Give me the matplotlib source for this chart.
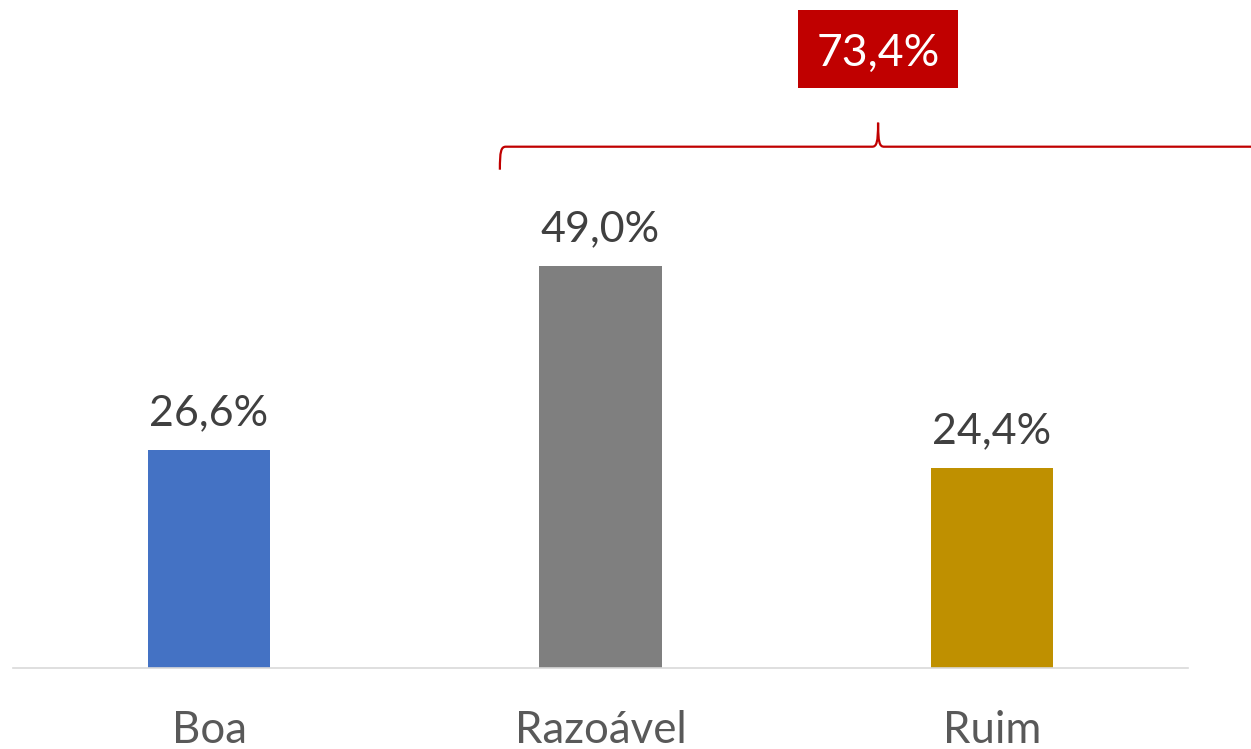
import matplotlib

matplotlib.use("Agg")
import matplotlib.pyplot as plt
import matplotlib.transforms as mtransforms
from matplotlib.patches import PathPatch, Rectangle
from matplotlib.path import Path

plt.rcParams["font.family"] = ["Lato", "DejaVu Sans"]

# ---- data ----
categories = ["Boa", "Razoável", "Ruim"]
values = [26.6, 49.0, 24.4]
bar_colors = ["#4472C4", "#7F7F7F", "#BF9000"]
bracket_label = "73,4%"  # Razoável + Ruim


def fmt_pct(v):
    return f"{v:.1f}%".replace(".", ",")


W, H, DPI = 1251, 749, 100
fig = plt.figure(figsize=(W / DPI, H / DPI), dpi=DPI)
ax = fig.add_axes([13.25 / W, 81 / H, 1174.5 / W, 668 / H])

ax.set_xlim(-0.5, 2.5)
ax.set_ylim(0, 668 / 8.2)

# px -> data unit factors (axes is 1174.5 px / 3 units wide, 8.2 px per %)
sx = 3 / 1174.5
sy = 1 / 8.2

xs = list(range(len(categories)))
ax.bar(xs, values, width=0.314, color=bar_colors, zorder=2)

for x, v in zip(xs, values):
    ax.annotate(fmt_pct(v), (x, v), xytext=(0, 18), textcoords="offset points",
                ha="center", va="baseline", fontsize=31, color="#404040")

# category labels under the axis
lab_tf = mtransforms.blended_transform_factory(ax.transData, fig.transFigure)
for x, c in zip(xs, categories):
    ax.text(x, 6 / H, c, transform=lab_tf, ha="center", va="baseline",
            fontsize=31.5, color="#595959", clip_on=False)

for s in ("top", "right", "left"):
    ax.spines[s].set_visible(False)
ax.spines["bottom"].set_color("#D9D9D9")
ax.spines["bottom"].set_linewidth(1.2)
ax.set_xticks([])
ax.set_yticks([])

# ---- curly brace over Razoável + Ruim ----
y0 = (668 - 146.7) * sy
xl = xs[1] - 0.257
xr = xs[2] + 0.675
xm = (xl + xr) / 2
verts = [
    (xl, y0 - 23 * sy),
    (xl, y0 - 5 * sy), (xl + 1 * sx, y0), (xl + 6 * sx, y0),
    (xm - 6 * sx, y0),
    (xm - 1.5 * sx, y0), (xm, y0 + 4 * sy), (xm, y0 + 24 * sy),
    (xm, y0 + 4 * sy), (xm + 1.5 * sx, y0), (xm + 6 * sx, y0),
    (xr - 6 * sx, y0),
    (xr - 1 * sx, y0), (xr, y0 - 5 * sy), (xr, y0 - 23 * sy),
]
codes = [Path.MOVETO] + [Path.CURVE4] * 3 + [Path.LINETO] + [Path.CURVE4] * 6 + \
        [Path.LINETO] + [Path.CURVE4] * 3
ax.add_patch(PathPatch(Path(verts, codes), fill=False, edgecolor="#C00000",
                       lw=1.6, clip_on=False))

# red total box
box_bottom = (668 - 88) * sy
ax.add_patch(Rectangle((xm - 80 * sx, box_bottom), 160 * sx, 78 * sy,
                       facecolor="#C00000", edgecolor="none", clip_on=False))
ax.text(xm, box_bottom + 22 * sy, bracket_label, ha="center", va="baseline",
        fontsize=32, color="white", clip_on=False)

fig.savefig("out.png", dpi=DPI)
